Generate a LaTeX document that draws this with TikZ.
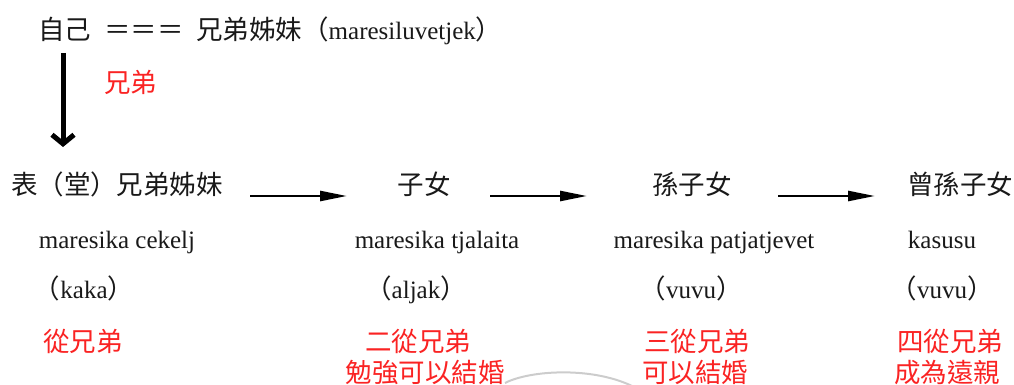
\documentclass[tikz,border=0pt]{standalone}
\usepackage{fontspec}
\setmainfont{Liberation Serif}
\newfontfamily\cjk[Scale=1.06]{Noto Sans CJK TC}
\usetikzlibrary{arrows.meta}
\definecolor{notered}{RGB}{250,35,35}
\definecolor{ink}{RGB}{25,25,25}
\begin{document}
\begin{tikzpicture}[x=1pt,y=-1pt,
  lbl/.style={inner sep=0pt, anchor=base, font=\fontsize{25}{30}\selectfont, text=ink},
  note/.style={lbl, text=notered},
  harrow/.style={line width=2.5pt, -{Triangle[length=27pt,width=10pt]}},
  varrow/.style={line width=5pt, -{Straight Barb[length=9pt,width=22pt]}}]
\useasboundingbox (0,0) rectangle (1014,385);
% top row
\node[lbl,anchor=base west] (self) at (38,40) {\cjk 自己};
\node[lbl] (eq) at (144,40) {\cjk ＝＝＝};
\node[lbl,anchor=base west] (sib) at (196,40) {{\cjk 兄弟姊妹（}maresiluvetjek{\cjk ）}};
\node[note,anchor=base west] (bro) at (104,93) {\cjk 兄弟};
% generation row
\node[lbl] (cous) at (117,194) {\cjk 表（堂）兄弟姊妹};
\node[lbl] (child) at (424,194) {\cjk 子女};
\node[lbl] (grand) at (692,194) {\cjk 孫子女};
\node[lbl] (ggrand) at (960,194) {\cjk 曾孫子女};
% names
\node[lbl] (n1) at (117,248) {maresika cekelj};
\node[lbl] (n2) at (437,248) {maresika tjalaita};
\node[lbl] (n3) at (714,248) {maresika patjatjevet};
\node[lbl] (n4) at (942,248) {kasusu};
% terms
\node[lbl] (t1) at (84,298) {{\cjk （}kaka{\cjk ）}};
\node[lbl] (t2) at (416,298) {{\cjk （}aljak{\cjk ）}};
\node[lbl] (t3) at (691,298) {{\cjk （}vuvu{\cjk ）}};
\node[lbl] (t4) at (942,298) {{\cjk （}vuvu{\cjk ）}};
% red notes
\node[note] (r1) at (83,351) {\cjk 從兄弟};
\node[note] (r2) at (418,351) {\cjk 二從兄弟};
\node[note] (r2b) at (425,382) {\cjk 勉強可以結婚};
\node[note] (r3) at (697,351) {\cjk 三從兄弟};
\node[note] (r3b) at (695,382) {\cjk 可以結婚};
\node[note] (r4) at (950,351) {\cjk 四從兄弟};
\node[note] (r4b) at (947,382) {\cjk 成為遠親};
% connectors
\coordinate (d0) at (63,53);
\coordinate (d1) at (63,147);
\draw[varrow] (d0) -- (d1);
\coordinate (a0) at (250,196);
\coordinate (a1) at (347,196);
\coordinate (b0) at (490,196);
\coordinate (b1) at (587,196);
\coordinate (c0) at (778,196);
\coordinate (c1) at (875,196);
\draw[harrow] (a0) -- (a1);
\draw[harrow] (b0) -- (b1);
\draw[harrow] (c0) -- (c1);
% faint arc
\coordinate (g0) at (505,383);
\coordinate (g1) at (636,388);
\draw[black!20, line width=2pt] (g0) .. controls (530,370) and (595,366) .. (g1);
\end{tikzpicture}
\end{document}
